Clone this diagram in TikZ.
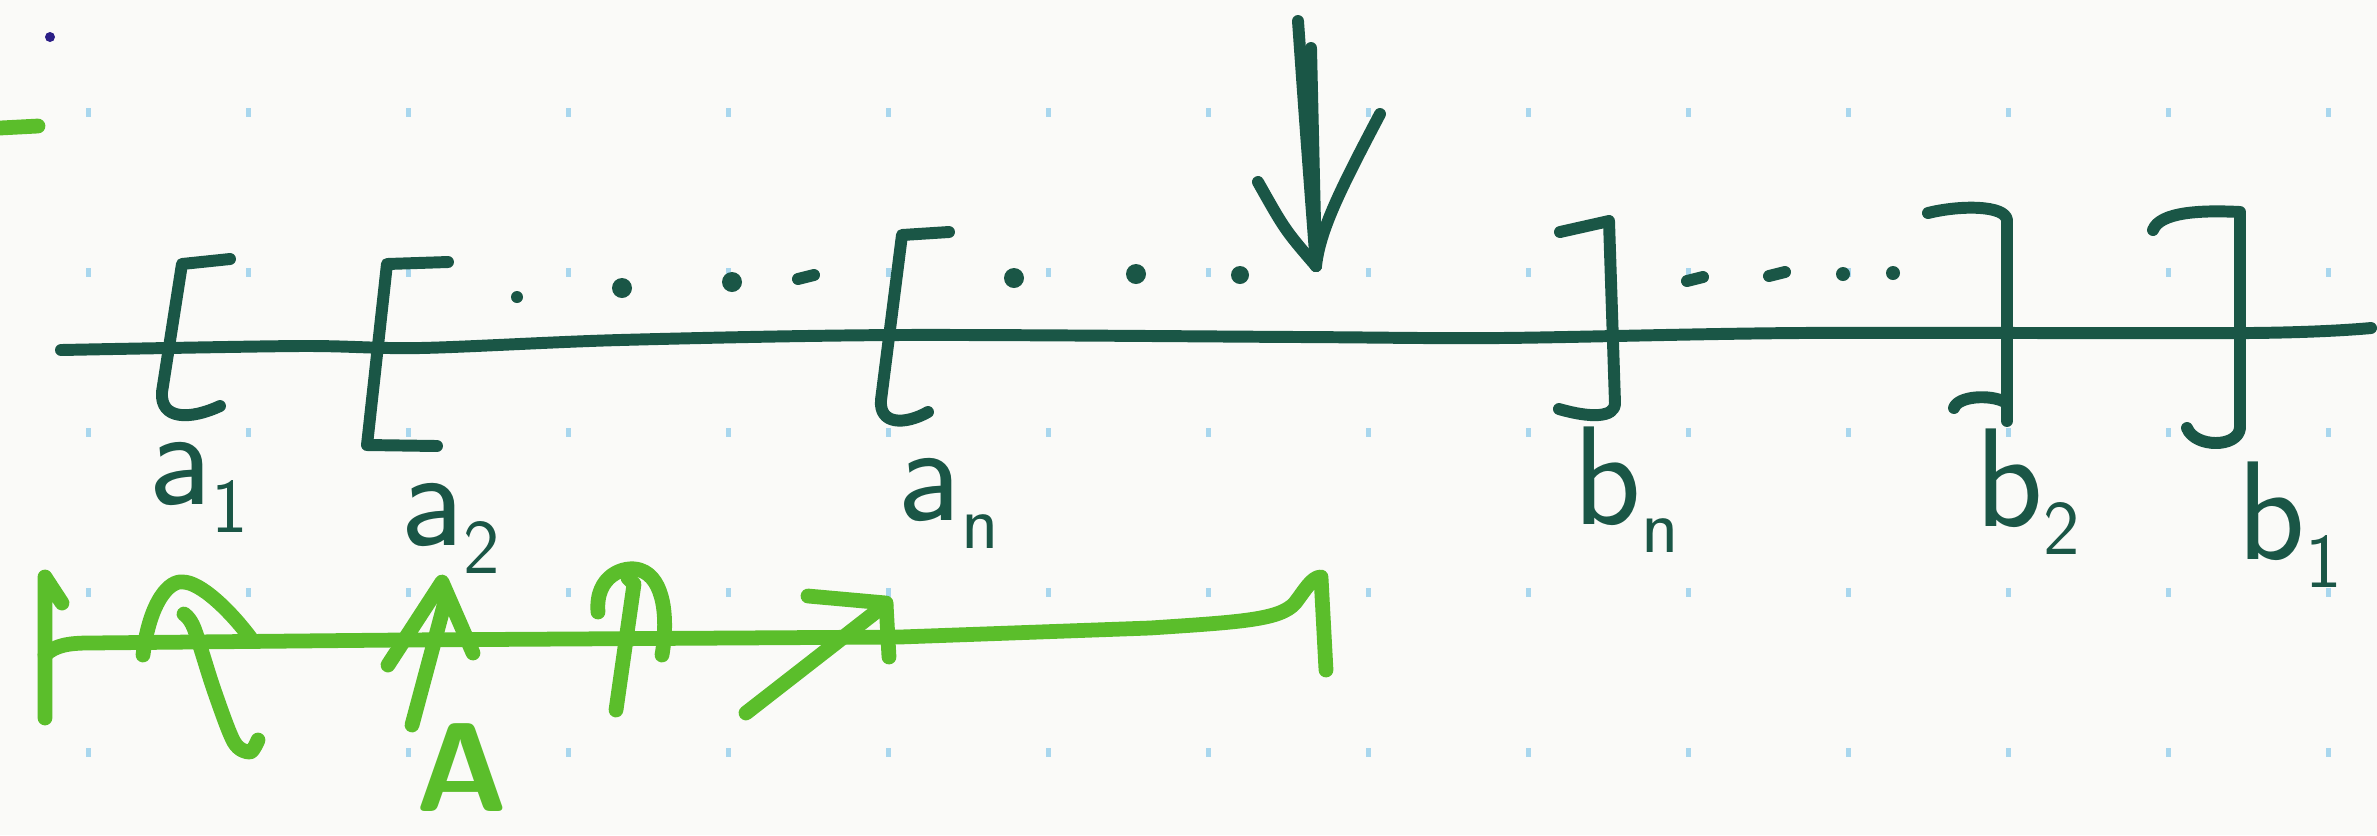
\documentclass[tikz,border=0pt]{standalone}
\usepackage{fontspec}
\usepackage{tikz}
\usepackage{xcolor}
\usetikzlibrary{arrows.meta,positioning,calc}
\definecolor{Paper}{HTML}{FAFAF8}
\definecolor{Ink}{HTML}{1A5646}
\definecolor{Lime}{HTML}{5BBE2B}
\definecolor{GridDot}{HTML}{A9D7EE}
\definecolor{Pen}{HTML}{2B1E86}
\newcommand{\lbl}[2]{#1\raisebox{-8pt}{\fontsize{22}{24}\selectfont #2}}
\tikzset{
  inkline/.style={draw=Ink,line width=3.4pt,line cap=round,line join=round},
  limeline/.style={draw=Lime,line width=4.2pt,line cap=round,line join=round},
  griddot/.style={fill=GridDot},
  inkdot/.style={fill=Ink},
  endlabel/.style={text=Ink,font=\fontsize{40}{44}\selectfont\sffamily,inner sep=0pt},
  bigletter/.style={text=Lime,font=\fontsize{36}{40}\selectfont\sffamily\bfseries,inner sep=0pt}
}

\begin{document}
\begin{tikzpicture}[x=0.01cm,y=-0.01cm]
  \fill[Paper] (0,0) rectangle (2377,835);
  \useasboundingbox (0,0) rectangle (2377,835);
  \foreach \gx in {0,...,14}{
    \foreach \gy in {0,...,4}{
      \fill[griddot] ({88+160*\gx-2.5},{112+160*\gy-4.5}) rectangle ++(5,9);
    }
  }
  \fill[Pen] (50,37) circle (5);
  \draw[limeline] (0,128) -- (38,126);

  % number line
  \draw[inkline] plot[smooth] coordinates {(61,350) (300,346) (420,348) (620,340) (900,335) (1300,337) (1500,338) (1800,333) (2250,333) (2371,328)};

  % left ends
  \draw[inkline] (230,259) -- (182,264) -- (162,392) .. controls (160,420) and (190,420) .. (220,406);
  \draw[inkline] (448,262) -- (387,264) -- (367,445) -- (437,446);
  \draw[inkline] (949,232) -- (902,235) -- (881,400) .. controls (879,425) and (905,425) .. (928,412);

  % right ends
  \draw[inkline] (1560,232) -- (1609,221) -- (1615,403) .. controls (1615,418) and (1590,418) .. (1559,409);
  \draw[inkline] (1928,213) .. controls (1960,205) and (2005,205) .. (2007,220) -- (2007,421);
  \draw[inkline] (1954,408) .. controls (1958,396) and (1990,394) .. (2005,402);
  \draw[inkline] (2153,230) .. controls (2160,212) and (2200,210) .. (2240,212) -- (2240,428) .. controls (2238,448) and (2195,448) .. (2187,428);

  % dots
  \foreach \dx/\dy/\dr in {517/297/6,622/288/10,732/282/10,1014/278/10,1136/274/10,1240/275/9,1843/274/7,1893/273/7}{
    \fill[inkdot] (\dx,\dy) circle (\dr);
  }
  \foreach \dx/\dy in {806/277,1695/279,1777/274}{
    \draw[inkline] (\dx-8,\dy+2) -- (\dx+8,\dy-2);
  }

  % probe arrow
  \coordinate (probetop) at (1298,21);
  \coordinate (probe) at (1316,266);
  \draw[inkline] (probetop) .. controls (1305,120) .. (probe);
  \draw[inkline] (1311,48) -- (probe);
  \draw[inkline] (1258,182) .. controls (1285,230) .. (probe);
  \draw[inkline] (1380,114) .. controls (1340,190) and (1320,230) .. (probe);

  % labels
  \node[endlabel] (a1) at (198,487) {\lbl{a}{1}};
  \node[endlabel] (a2) at (450,528) {\lbl{a}{2}};
  \node[endlabel] (an) at (948,503) {\lbl{a}{n}};
  \node[endlabel] (bn) at (1626,490) {\lbl{b}{n}};
  \node[endlabel] (b2) at (2028,492) {\lbl{b}{2}};
  \node[endlabel] (b1) at (2290,525) {\lbl{b}{1}};

  % search range
  \draw[limeline] (62,603) -- (45,577) -- (45,718);
  \draw[limeline] (45,655) .. controls (55,645) and (70,643) .. (89,643) -- (400,640) -- (900,637) -- (1150,628) .. controls (1240,622) and (1280,620) .. (1295,603) .. controls (1305,590) and (1312,577) .. (1321,577) -- (1326,670);
  \draw[limeline] (143,655) .. controls (150,600) and (170,580) .. (183,582) .. controls (200,582) and (230,610) .. (252,640);
  \draw[limeline] plot[smooth] coordinates {(184,614) (194,628) (214,690) (234,742) (250,752) (258,740)};
  \draw[limeline] (388,665) -- (442,582) -- (473,653);
  \draw[limeline] (446,598) -- (412,725);
  \draw[limeline] (598,612) .. controls (595,575) and (625,565) .. (640,570) .. controls (665,578) and (668,620) .. (662,655);
  \draw[limeline] (628,578) -- (634,584) -- (616,710);
  \draw[limeline] (746,713) -- (886,604);
  \draw[limeline] (808,596) -- (886,603) -- (889,657);
  \node[bigletter] (A) at (462,768) {A};
\end{tikzpicture}
\end{document}
